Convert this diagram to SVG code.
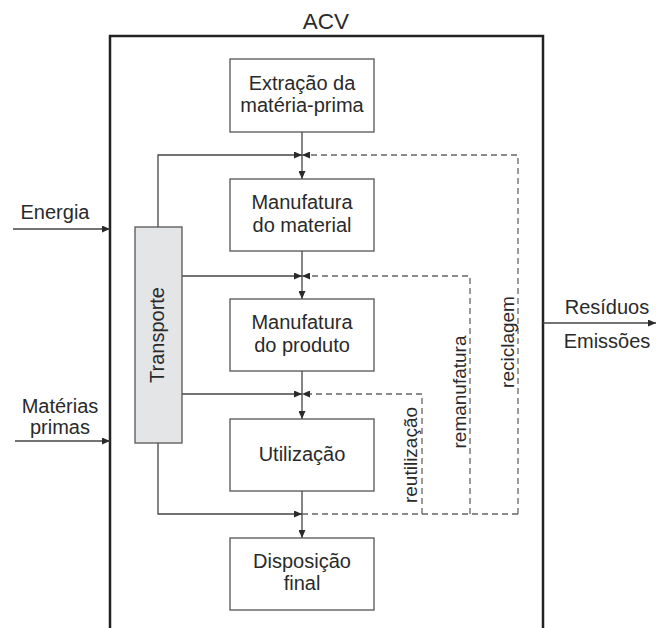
<svg xmlns="http://www.w3.org/2000/svg" width="656" height="628" viewBox="0 0 656 628">
<defs>
<marker id="ah" markerWidth="8" markerHeight="7" refX="8" refY="3.5" orient="auto" markerUnits="userSpaceOnUse">
<path d="M0,0 L8,3.5 L0,7 z" fill="#2a2a2a"/>
</marker>
<style>
.t{font-family:"Liberation Sans",Arial,sans-serif;font-size:20px;fill:#2a2a2a;text-anchor:middle}
.box{fill:#fff;stroke:#555;stroke-width:1.3}
.ln{fill:none;stroke:#444;stroke-width:1.3}
.ds{fill:none;stroke:#666;stroke-width:1.3;stroke-dasharray:6,4}
</style>
</defs>
<rect width="656" height="628" fill="#fff"/>
<g id="frame">
<path d="M110,640 V36 H543 V640" fill="none" stroke="#222" stroke-width="2.5"/>
<text class="t" x="326" y="29" style="font-size:22.5px">ACV</text>
</g>
<g id="connectors">
<path class="ln" d="M302,132 V179" marker-end="url(#ah)"/>
<path class="ln" d="M302,251 V299" marker-end="url(#ah)"/>
<path class="ln" d="M302,371 V419" marker-end="url(#ah)"/>
<path class="ln" d="M302,491 V538" marker-end="url(#ah)"/>
<path class="ln" d="M158,227 V155 H302" marker-end="url(#ah)"/>
<path class="ln" d="M182,276 H302" marker-end="url(#ah)"/>
<path class="ln" d="M182,394 H302" marker-end="url(#ah)"/>
<path class="ln" d="M158,443 V514 H302" marker-end="url(#ah)"/>
<path class="ds" d="M302,514 H518"/>
<path class="ds" d="M518,514 V155 H302" marker-end="url(#ah)"/>
<path class="ds" d="M470,514 V276 H302" marker-end="url(#ah)"/>
<path class="ds" d="M422,514 V394 H302" marker-end="url(#ah)"/>
<path class="ln" d="M13,229 H110" marker-end="url(#ah)"/>
<path class="ln" d="M15,441 H110" marker-end="url(#ah)"/>
<path class="ln" d="M543,323 H656" marker-end="url(#ah)"/>
<text class="t" transform="translate(514,342) rotate(-90)" style="font-size:19px">reciclagem</text>
<text class="t" transform="translate(466,392) rotate(-90)" style="font-size:19px">remanufatura</text>
<text class="t" transform="translate(417,455) rotate(-90)" style="font-size:19px">reutilização</text>
</g>
<g id="extracao">
<rect class="box" x="230" y="59" width="144" height="73"/>
<text class="t" x="302" y="90">Extração da</text>
<text class="t" x="302" y="112">matéria-prima</text>
</g>
<g id="manufatura-material">
<rect class="box" x="230" y="179" width="144" height="72"/>
<text class="t" x="302" y="209">Manufatura</text>
<text class="t" x="302" y="232">do material</text>
</g>
<g id="manufatura-produto">
<rect class="box" x="230" y="299" width="144" height="72"/>
<text class="t" x="302" y="329">Manufatura</text>
<text class="t" x="302" y="352">do produto</text>
</g>
<g id="utilizacao">
<rect class="box" x="230" y="419" width="144" height="72"/>
<text class="t" x="302" y="461">Utilização</text>
</g>
<g id="disposicao">
<rect class="box" x="230" y="538" width="144" height="72"/>
<text class="t" x="302" y="568">Disposição</text>
<text class="t" x="302" y="590">final</text>
</g>
<g id="transporte">
<rect x="135" y="227" width="47" height="216" fill="#e4e5e7" stroke="#555" stroke-width="1.3"/>
<text class="t" transform="translate(164,335) rotate(-90)">Transporte</text>
</g>
<g id="energia">
<text class="t" x="55" y="219">Energia</text>
</g>
<g id="materias">
<text class="t" x="60" y="413">Matérias</text>
<text class="t" x="60" y="434">primas</text>
</g>
<g id="saidas">
<text class="t" x="607" y="314">Resíduos</text>
<text class="t" x="607" y="348">Emissões</text>
</g>
</svg>
